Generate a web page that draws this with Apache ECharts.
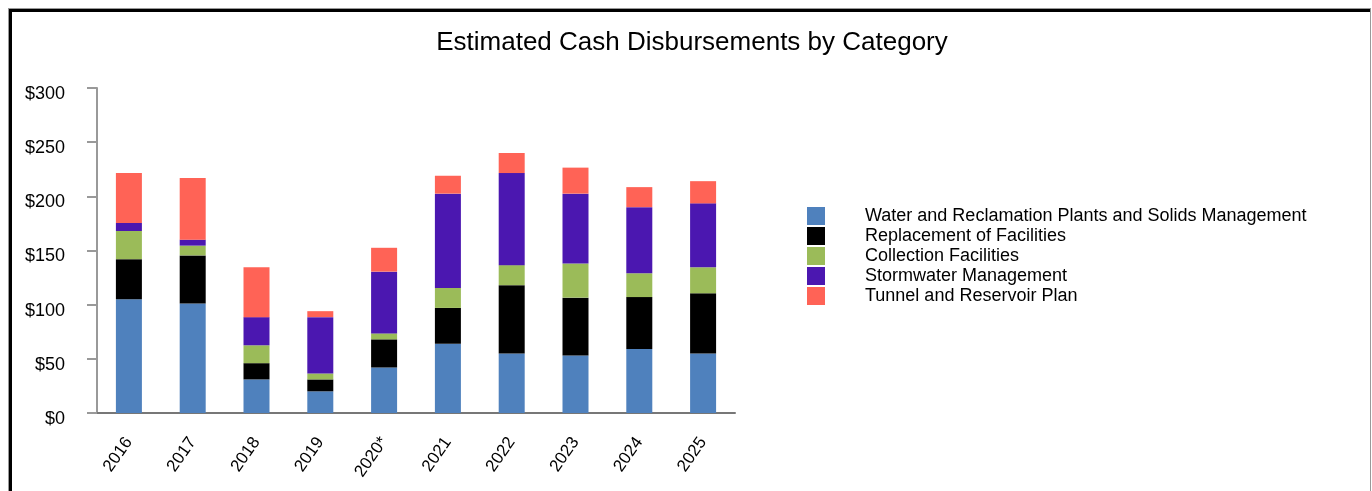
<!DOCTYPE html>
<html>
<head>
<meta charset="utf-8">
<script src="https://cdn.jsdelivr.net/npm/echarts@6/dist/echarts.min.js"></script>
<style>
html,body{margin:0;padding:0;background:#fff;}
#chart{position:absolute;left:0;top:0;width:1372px;height:491px;}
#frame{position:absolute;left:8px;top:8px;width:1361px;height:600px;border:1px solid #999;box-shadow:inset 3px 3px 0 0 #000;pointer-events:none;}
</style>
</head>
<body>
<div id="chart"></div>
<div id="frame"></div>
<script>
const categories = ['2016','2017','2018','2019','2020*','2021','2022','2023','2024','2025'];
const waterReclamation = [105, 101, 31, 20, 42, 64, 55, 53, 59, 55];
const replacement = [37, 44.5, 15, 11, 26, 33, 63, 53.5, 48, 55.5];
const collection = [26, 9, 16.5, 5.5, 5.5, 18.5, 18.5, 31.5, 22, 24];
const stormwater = [7.5, 5.5, 26, 52, 57, 87, 85, 64.5, 61, 59];
const tarp = [46, 57, 46, 5.5, 22, 16.5, 18.5, 24, 18.5, 20.5];
const seriesNames = ['Water and Reclamation Plants and Solids Management','Replacement of Facilities','Collection Facilities','Stormwater Management','Tunnel and Reservoir Plan'];
const seriesData = [waterReclamation, replacement, collection, stormwater, tarp];
const colors = ['#4F81BD','#000000','#9BBB59','#4B17B0','#FF6356'];
const yTicks = [0, 50, 100, 150, 200, 250, 300];

const font = '"Liberation Sans", Arial, sans-serif';
const chart = echarts.init(document.getElementById('chart'), null, {renderer:'canvas'});
chart.setOption({
  animation:false,
  title:{text:'Estimated Cash Disbursements by Category', left:687, textAlign:'center', top:25,
    textStyle:{fontFamily:font, fontSize:26, fontWeight:'normal', color:'#000'}},
  legend:{orient:'vertical', left:807, top:207, padding:0, itemWidth:18, itemHeight:18, itemGap:2, icon:'rect',
    data:seriesNames,
    textStyle:{fontFamily:font, fontSize:18, color:'#000', padding:[0,0,0,35]}},
  grid:{left:97, top:88, right:637, bottom:78, containLabel:false},
  xAxis:{type:'category', data:categories,
    axisLine:{lineStyle:{color:'#777', width:2}},
    axisTick:{alignWithLabel:true, length:10, lineStyle:{color:'#999', width:2}},
    axisLabel:{rotate:55, margin:26, fontFamily:font, fontSize:17, color:'#000'}},
  yAxis:{type:'value', min:yTicks[0], max:yTicks[yTicks.length-1], interval:50,
    splitLine:{show:false},
    axisLine:{show:true, lineStyle:{color:'#999', width:2}},
    axisTick:{show:true, length:10, lineStyle:{color:'#999', width:2}},
    axisLabel:{margin:32, verticalAlign:'top', lineHeight:12, fontFamily:font, fontSize:18, color:'#000', formatter:v=>'$'+v}},
  series: seriesNames.map((n,i)=>({name:n, type:'bar', stack:'total', barWidth:26,
    itemStyle:{color:colors[i]}, data:seriesData[i]}))
});
</script>
</body>
</html>
